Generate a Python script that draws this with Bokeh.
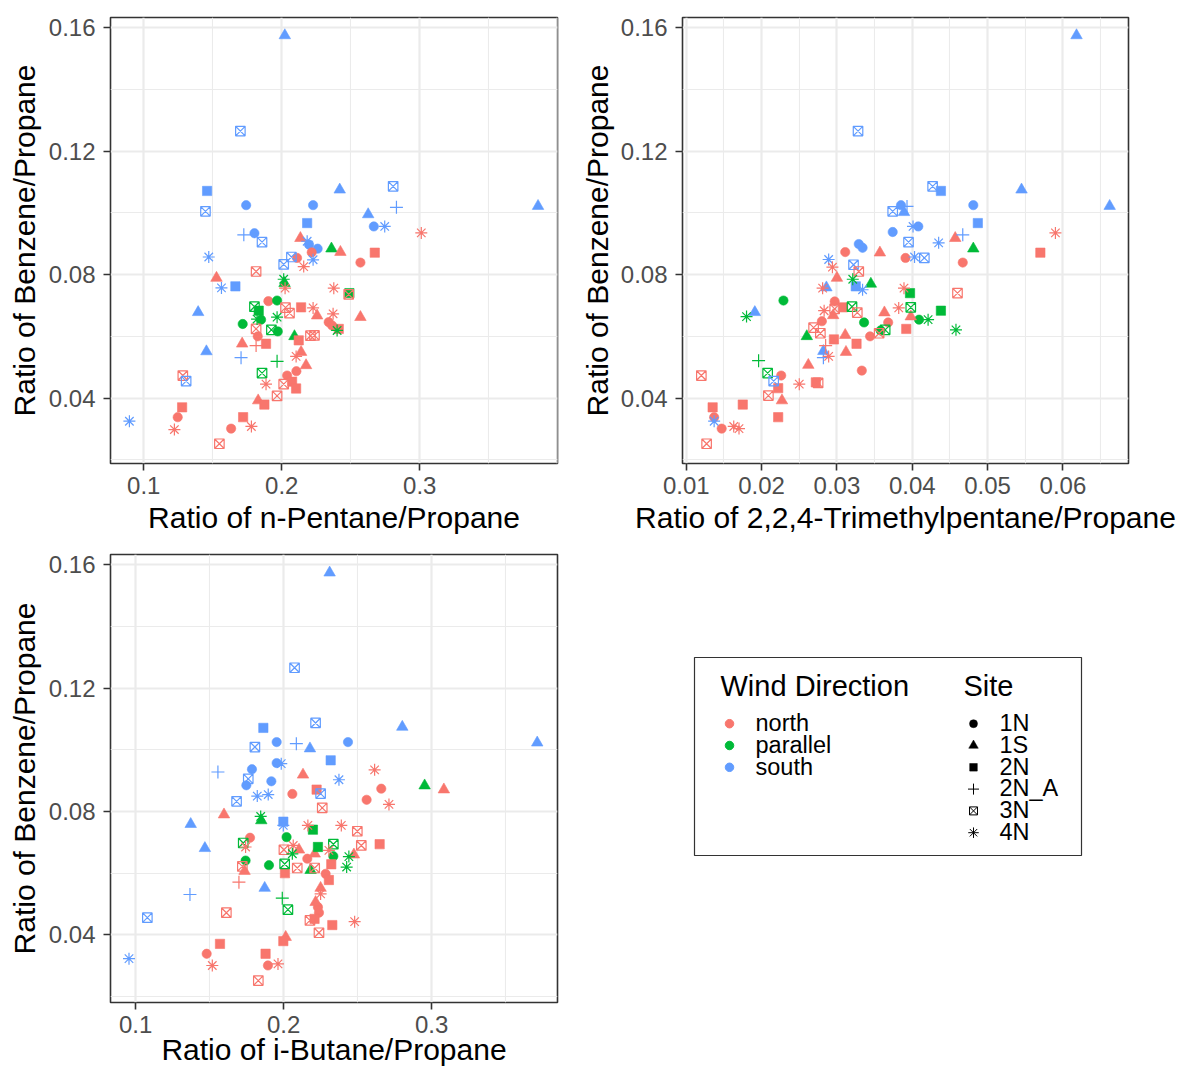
from bokeh.plotting import figure
from bokeh.models import ColumnDataSource, Range1d, FixedTicker
from bokeh.layouts import row, column
from bokeh.transform import factor_cmap
from bokeh.core.properties import value
from bokeh.embed import file_html
from bokeh.resources import INLINE

FONT = "Liberation Sans"

# ---------------- categories ----------------
WIND_CODES = {"N": "north", "P": "parallel", "S": "south"}
WIND_LEVELS = ["north", "parallel", "south"]
WIND_COLORS = ["#F8766D", "#00BA38", "#619CFF"]
SITE_LEVELS = ["1N", "1S", "2N", "2N_A", "3N", "4N"]

# ---------------- axes ----------------
Y_TICKS = [0.04, 0.08, 0.12, 0.16]
Y_MINOR = [0.02, 0.06, 0.10, 0.14]
Y_TICK_LABELS = ["0.04", "0.08", "0.12", "0.16"]
Y_TITLE = "Ratio of Benzene/Propane"

P1_XTICKS = [0.1, 0.2, 0.3, 0.4]
P1_XMINOR = [0.15, 0.25, 0.35]
P1_XLABELS = ["0.1", "0.2", "0.3", "0.4"]
P1_TITLE = "Ratio of n-Pentane/Propane"

P2_XTICKS = [0.01, 0.02, 0.03, 0.04, 0.05, 0.06]
P2_XMINOR = [0.015, 0.025, 0.035, 0.045, 0.055, 0.065]
P2_XLABELS = ["0.01", "0.02", "0.03", "0.04", "0.05", "0.06"]
P2_TITLE = "Ratio of 2,2,4-Trimethylpentane/Propane"

P3_XTICKS = [0.1, 0.2, 0.3]
P3_XMINOR = [0.15, 0.25, 0.35]
P3_XLABELS = ["0.1", "0.2", "0.3"]
P3_TITLE = "Ratio of i-Butane/Propane"

# ---------------- panel 1: n-Pentane/Propane ----------------
P1_X = [0.2022, 0.1700, 0.1459, 0.1742, 0.2227, 0.2420, 0.2807, 0.2831, 0.3857, 0.1447,
        0.2626, 0.2184, 0.1725, 0.1802, 0.1857, 0.2135, 0.2184, 0.2198, 0.2260, 0.2217,
        0.2360, 0.2425, 0.2070, 0.2014, 0.2111, 0.2227, 0.2159, 0.1471, 0.1814, 0.1527,
        0.2014, 0.2020, 0.2024, 0.1563, 0.1664, 0.2377, 0.2485, 0.2490, 0.1394, 0.1903,
        0.1966, 0.1802, 0.1833, 0.2027, 0.2056, 0.2140, 0.2227, 0.1717, 0.1821, 0.1850,
        0.1966, 0.2256, 0.2372, 0.2570, 0.2340, 0.2365, 0.2413, 0.2401, 0.2208, 0.2237,
        0.2123, 0.2092, 0.1925, 0.1971, 0.1814, 0.1826, 0.1886, 0.1713, 0.1814, 0.1454,
        0.1705, 0.1966, 0.2104, 0.2140, 0.2176, 0.2106, 0.2039, 0.1857, 0.1283, 0.1307,
        0.1886, 0.2014, 0.2075, 0.2104, 0.1966, 0.1829, 0.1874, 0.1278, 0.1246, 0.1222,
        0.0896, 0.1720, 0.1780, 0.1633, 0.1548, 0.2667, 0.2746, 0.3011, 0.2674, 0.2570]
P1_Y = [0.1575, 0.1265, 0.1071, 0.1025, 0.1025, 0.1075, 0.1086, 0.1018, 0.1022, 0.1005,
        0.0995, 0.0967, 0.0929, 0.0934, 0.0905, 0.0918, 0.0908, 0.0897, 0.0884, 0.0872,
        0.0884, 0.0873, 0.0857, 0.0833, 0.0854, 0.0848, 0.0826, 0.0857, 0.0810, 0.0789,
        0.0785, 0.0772, 0.0756, 0.0757, 0.0762, 0.0756, 0.0736, 0.0740, 0.0678, 0.0714,
        0.0716, 0.0696, 0.0683, 0.0693, 0.0675, 0.0694, 0.0692, 0.0640, 0.0656, 0.0654,
        0.0662, 0.0667, 0.0673, 0.0662, 0.0646, 0.0635, 0.0624, 0.0619, 0.0602, 0.0603,
        0.0587, 0.0600, 0.0621, 0.0616, 0.0624, 0.0600, 0.0576, 0.0576, 0.0570, 0.0551,
        0.0531, 0.0519, 0.0535, 0.0549, 0.0506, 0.0487, 0.0473, 0.0481, 0.0473, 0.0455,
        0.0445, 0.0445, 0.0453, 0.0431, 0.0407, 0.0392, 0.0379, 0.0370, 0.0338, 0.0298,
        0.0325, 0.0338, 0.0308, 0.0301, 0.0252, 0.0956, 0.0956, 0.0935, 0.0871, 0.0839]
P1_WIND = ("S S S S S S S S S S  S S S S S N S S S N  P N S S N S N S N N  "
           "P P N S S N N P S N  P P P N N N N P P P  P N N N N N N P N N  "
           "N P P P N N N N N S  S P N N N N N P N S  N N N N N N N N N N  "
           "S N N N N S S N N N").split()
P1_SITE = ("1S 3N 2N 1N 1N 1S 3N 2N_A 1S 3N  1S 2N 2N_A 1N 3N 1S 4N 1N 1N 1N  "
           "1S 1S 3N 3N 1N 4N 4N 4N 3N 1S  4N 1S 4N 4N 2N 4N 3N 2N 1S 1N  "
           "1N 3N 2N 3N 3N 2N 4N 1N 4N 1N  4N 1S 4N 1S 1N 1N 2N 4N 3N 3N  "
           "2N 1S 3N 1N 3N 1N 2N 1S 2N_A 1S  2N_A 2N_A 4N 1S 1S 1N 1N 3N 3N 3N  "
           "4N 3N 2N 2N 3N 1S 2N 2N 1N 4N  4N 2N 4N 1N 3N 1N 4N 4N 2N 1N").split()

# ---------------- panel 2: 2,2,4-Trimethylpentane/Propane ----------------
P2_X = [0.0618, 0.0328, 0.0427, 0.0438, 0.0481, 0.0545, 0.0662, 0.0385, 0.0393, 0.0374,
        0.0389, 0.0374, 0.0329, 0.0334, 0.0357, 0.0311, 0.0391, 0.0289, 0.0294, 0.0322,
        0.0329, 0.0300, 0.0321, 0.0325, 0.0334, 0.0345, 0.0281, 0.0286, 0.0389, 0.0397,
        0.0229, 0.0180, 0.0191, 0.0297, 0.0297, 0.0283, 0.0308, 0.0320, 0.0327, 0.0295,
        0.0280, 0.0363, 0.0382, 0.0368, 0.0336, 0.0269, 0.0278, 0.0260, 0.0296, 0.0285,
        0.0311, 0.0326, 0.0312, 0.0282, 0.0282, 0.0289, 0.0358, 0.0364, 0.0356, 0.0344,
        0.0392, 0.0333, 0.0262, 0.0250, 0.0272, 0.0275, 0.0196, 0.0208, 0.0216, 0.0226,
        0.0222, 0.0209, 0.0227, 0.0175, 0.0222, 0.0120, 0.0135, 0.0137, 0.0137, 0.0147,
        0.0163, 0.0170, 0.0127, 0.0487, 0.0401, 0.0408, 0.0395, 0.0435, 0.0457, 0.0467,
        0.0481, 0.0403, 0.0416, 0.0467, 0.0590, 0.0570, 0.0460, 0.0398, 0.0398, 0.0409,
        0.0421, 0.0438, 0.0458]
P2_Y = [0.1575, 0.1265, 0.1086, 0.1071, 0.1025, 0.1075, 0.1022, 0.1025, 0.1021, 0.1005,
        0.1002, 0.0938, 0.0899, 0.0887, 0.0871, 0.0873, 0.0854, 0.0849, 0.0824, 0.0832,
        0.0810, 0.0789, 0.0785, 0.0762, 0.0751, 0.0770, 0.0756, 0.0758, 0.0756, 0.0740,
        0.0716, 0.0664, 0.0678, 0.0713, 0.0689, 0.0683, 0.0694, 0.0696, 0.0677, 0.0668,
        0.0649, 0.0677, 0.0692, 0.0645, 0.0645, 0.0628, 0.0610, 0.0600, 0.0590, 0.0570,
        0.0604, 0.0576, 0.0549, 0.0552, 0.0531, 0.0535, 0.0619, 0.0621, 0.0610, 0.0600,
        0.0624, 0.0489, 0.0507, 0.0445, 0.0451, 0.0449, 0.0521, 0.0481, 0.0455, 0.0473,
        0.0432, 0.0408, 0.0392, 0.0379, 0.0338, 0.0473, 0.0370, 0.0338, 0.0325, 0.0301,
        0.0308, 0.0301, 0.0252, 0.0967, 0.0956, 0.0956, 0.0905, 0.0903, 0.0918, 0.0929,
        0.0884, 0.0857, 0.0854, 0.0839, 0.0935, 0.0871, 0.0740, 0.0694, 0.0664, 0.0654,
        0.0654, 0.0683, 0.0621]
P2_WIND = ("S S S S S S S S S S  S S S S N N N S N S  N N P S S P N S N P  "
           "P P S N N N N P N N  N N N N P N N P N N  N N N S S N P P N N  "
           "N N N N N N P P S N  N N N N N N N N S N  N N N S S S S S N S  "
           "P S S N N N N P N P  P P P").split()
P2_SITE = ("1S 3N 3N 2N 1N 1S 1S 1N 2N_A 3N  1S 1N 1N 1N 1S 1N 1N 4N 4N 3N  "
           "3N 1S 4N 2N 4N 1S 4N 1S 4N 2N  1N 4N 1S 1N 3N 4N 2N 3N 3N 1S  "
           "1N 1S 4N 1N 1N 3N 3N 1S 2N 2N_A  1S 2N 1S 1S 2N_A 4N 1N 3N 3N 1N  "
           "2N 1N 1S 4N 2N 3N 2N_A 3N 3N 1N  2N 3N 1S 2N 2N 3N 2N 1N 4N 1N  "
           "4N 4N 3N 2N 4N 1N 3N 4N 1S 2N_A  1S 4N 3N 1N 4N 2N 3N 3N 1S 1N  "
           "4N 2N 4N").split()

# ---------------- panel 3: i-Butane/Propane ----------------
P3_X = [0.2311, 0.2074, 0.1863, 0.2216, 0.2802, 0.3714, 0.1953, 0.2086, 0.2178, 0.2435,
        0.1806, 0.2318, 0.1953, 0.1984, 0.1556, 0.1786, 0.1761, 0.1748, 0.1917, 0.2131,
        0.2374, 0.2223, 0.2250, 0.2059, 0.1822, 0.1896, 0.1682, 0.2261, 0.1597, 0.1845,
        0.1849, 0.1372, 0.1998, 0.1998, 0.2164, 0.2198, 0.2390, 0.1773, 0.1727, 0.1743,
        0.2020, 0.2002, 0.2065, 0.2059, 0.2104, 0.2232, 0.2210, 0.2160, 0.2336, 0.2336,
        0.2306, 0.1468, 0.1743, 0.1721, 0.1736, 0.1901, 0.2007, 0.2009, 0.2092, 0.2210,
        0.2182, 0.2322, 0.2284, 0.2306, 0.2250, 0.2250, 0.1698, 0.1872, 0.1367, 0.1991,
        0.2216, 0.2232, 0.2239, 0.2029, 0.1613, 0.1079, 0.2178, 0.2209, 0.2329, 0.2239,
        0.2014, 0.1998, 0.1570, 0.1480, 0.1878, 0.1518, 0.1894, 0.1962, 0.1829, 0.0955,
        0.2615, 0.2660, 0.2561, 0.2712, 0.2953, 0.3083, 0.2498, 0.2525, 0.2649, 0.2441,
        0.2475, 0.2426, 0.2480]
P3_Y = [0.1574, 0.1266, 0.1071, 0.1087, 0.1074, 0.1023, 0.1025, 0.1020, 0.1004, 0.1025,
        0.1009, 0.0966, 0.0957, 0.0955, 0.0928, 0.0937, 0.0906, 0.0885, 0.0898, 0.0919,
        0.0903, 0.0871, 0.0858, 0.0857, 0.0850, 0.0855, 0.0833, 0.0812, 0.0790, 0.0784,
        0.0771, 0.0759, 0.0767, 0.0755, 0.0755, 0.0741, 0.0755, 0.0715, 0.0698, 0.0685,
        0.0717, 0.0676, 0.0690, 0.0663, 0.0676, 0.0685, 0.0663, 0.0647, 0.0694, 0.0655,
        0.0674, 0.0681, 0.0641, 0.0622, 0.0607, 0.0626, 0.0630, 0.0600, 0.0617, 0.0617,
        0.0610, 0.0629, 0.0598, 0.0578, 0.0552, 0.0533, 0.0571, 0.0552, 0.0531, 0.0519,
        0.0506, 0.0490, 0.0472, 0.0482, 0.0472, 0.0456, 0.0447, 0.0452, 0.0432, 0.0407,
        0.0393, 0.0380, 0.0371, 0.0339, 0.0339, 0.0301, 0.0301, 0.0306, 0.0252, 0.0323,
        0.0935, 0.0874, 0.0838, 0.0823, 0.0884, 0.0871, 0.0736, 0.0690, 0.0694, 0.0654,
        0.0660, 0.0620, 0.0443]
P3_WIND = ("S S S S S S S S S S  S S S S S S S S S N  S N S N S S S N N P  "
           "P S S S N P N N P N  P N N P N P N N P P  N S P N N P P N N N  "
           "P N N N N N N S S P  N N N P N S N N N N  N N N N N N N N N S  "
           "N N N N P N N N N P  N P N").split()
P3_SITE = ("1S 3N 2N 3N 1S 1S 1N 2N_A 1S 1N  3N 2N 1N 4N 2N_A 1N 3N 1N 1N 1S  "
           "4N 2N 3N 1N 4N 4N 3N 3N 1S 4N  1S 1S 2N 4N 4N 2N 4N 1N 3N 4N  "
           "1N 3N 4N 4N 1S 2N 1S 1N 3N 1N  4N 1S 1N 3N 1S 1N 3N 2N 3N 3N  "
           "1S 2N 1N 2N 1S 4N 2N_A 1S 2N_A 2N_A  1S 1N 1N 3N 3N 3N 3N 2N 2N 3N  "
           "1S 2N 2N 1N 2N 4N 1N 4N 3N 4N  4N 1N 1N 4N 1S 1S 3N 3N 2N 4N  "
           "1S 4N 4N").split()

# ---------------- styles ----------------
# site -> (bokeh marker, panel size, filled, legend size)
MARKERS = {
    "1N": ("circle", 9.3, True, 8.0),
    "1S": ("triangle", 11.5, True, 9.5),
    "2N": ("square", 9.3, True, 7.6),
    "2N_A": ("cross", 13.0, False, 11.0),
    "3N": ("square_x", 9.5, False, 8.0),
    "4N": ("asterisk", 12.0, False, 10.5),
}


def style_axis(ax):
    ax.axis_line_color = None
    ax.major_tick_line_color = "#333333"
    ax.major_tick_line_width = 1.6
    ax.major_tick_in = 0
    ax.major_tick_out = 7
    ax.minor_tick_line_color = None
    ax.major_label_text_font = FONT
    ax.major_label_text_font_size = "24px"
    ax.major_label_text_color = "#4D4D4D"
    ax.major_label_standoff = 6
    ax.axis_label_text_font = FONT
    ax.axis_label_text_font_size = "30px"
    ax.axis_label_text_font_style = "normal"
    ax.axis_label_text_color = "black"
    ax.axis_label_standoff = 4


def make_panel(xs, ys, winds, sites, xr, yr, xticks, xminor, xlabels, xtitle,
               width, height, borders, xtitle_standoff=4):
    p = figure(width=width, height=height, x_range=Range1d(*xr), y_range=Range1d(*yr),
               output_backend="svg", toolbar_location=None, tools="",
               min_border_left=borders[0], min_border_right=borders[1],
               min_border_top=borders[2], min_border_bottom=borders[3])
    p.background_fill_color = "white"
    p.border_fill_color = "white"
    p.outline_line_color = "#333333"
    p.outline_line_width = 1.6

    p.xaxis.ticker = FixedTicker(ticks=xticks, minor_ticks=xminor)
    p.yaxis.ticker = FixedTicker(ticks=Y_TICKS, minor_ticks=Y_MINOR)
    p.xaxis.major_label_overrides = {t: l for t, l in zip(xticks, xlabels)}
    p.yaxis.major_label_overrides = {t: l for t, l in zip(Y_TICKS, Y_TICK_LABELS)}
    p.xaxis.axis_label = xtitle
    p.yaxis.axis_label = Y_TITLE
    for ax in p.xaxis + p.yaxis:
        style_axis(ax)
    p.yaxis.major_label_standoff = 8
    p.yaxis.axis_label_standoff = 5
    p.xaxis.axis_label_standoff = xtitle_standoff

    for g in p.xgrid + p.ygrid:
        g.grid_line_color = "#EBEBEB"
        g.grid_line_width = 2.2
        g.minor_grid_line_color = "#EBEBEB"
        g.minor_grid_line_width = 1.1

    cmap = factor_cmap("wind", palette=WIND_COLORS, factors=WIND_LEVELS)
    for site in SITE_LEVELS:
        marker, size, filled, _ = MARKERS[site]
        idx = [i for i, s in enumerate(sites) if s == site]
        if not idx:
            continue
        src = ColumnDataSource(dict(
            x=[xs[i] for i in idx],
            y=[ys[i] for i in idx],
            wind=[WIND_CODES[winds[i]] for i in idx],
        ))
        if filled:
            p.scatter("x", "y", source=src, marker=marker, size=size,
                      fill_color=cmap, line_color=cmap, line_width=0.6)
        else:
            p.scatter("x", "y", source=src, marker=marker, size=size,
                      fill_color=None, line_color=cmap, line_width=1.2)
    return p


# page geometry (px): left column 0..576, right column 576..1179; rows 0..545, 545..1068
p1 = make_panel(P1_X, P1_Y, P1_WIND, P1_SITE, (0.0759, 0.3998), (0.0188, 0.1633),
                P1_XTICKS, P1_XMINOR, P1_XLABELS, P1_TITLE,
                576, 545, (110, 19, 17, 82))
p2 = make_panel(P2_X, P2_Y, P2_WIND, P2_SITE, (0.0095, 0.0687), (0.0188, 0.1633),
                P2_XTICKS, P2_XMINOR, P2_XLABELS, P2_TITLE,
                603, 545, (106, 51, 17, 82))
p2.yaxis.axis_label_standoff = 4
p3 = make_panel(P3_X, P3_Y, P3_WIND, P3_SITE, (0.0830, 0.3851), (0.0181, 0.1633),
                P3_XTICKS, P3_XMINOR, P3_XLABELS, P3_TITLE,
                576, 523, (110, 19, 9, 66), xtitle_standoff=-3)

# ---------------- legend panel (frame aligned with panel 2's frame: x 682..1128) ----------------
lg = figure(width=603, height=523, x_range=Range1d(682, 1128), y_range=Range1d(1068, 545),
            output_backend="svg", toolbar_location=None, tools="",
            min_border_left=106, min_border_right=51, min_border_top=0, min_border_bottom=0,
            x_axis_location=None, y_axis_location=None)
lg.grid.visible = False
lg.outline_line_color = None
lg.background_fill_color = "white"
lg.border_fill_color = "white"

lg.quad(left=[694], right=[1081], top=[657], bottom=[855],
        fill_color=None, line_color="#333333", line_width=1.2)

ROW_H = 21.8
MARK_Y0 = 723.2      # first legend key centre
TEXT_Y0 = 722.5      # first legend label baseline position (as rendered)
TITLE_Y = 685.5
lg.text(x=[720, 963], y=[TITLE_Y, TITLE_Y], text=["Wind Direction", "Site"],
        text_font=value(FONT), text_font_size="29px", text_baseline="alphabetic",
        text_color="black")
lg.scatter(x=[729] * len(WIND_LEVELS), y=[MARK_Y0 + i * ROW_H for i in range(len(WIND_LEVELS))],
           marker="circle", size=8.5, fill_color=WIND_COLORS, line_color=WIND_COLORS)
lg.text(x=[755] * len(WIND_LEVELS), y=[TEXT_Y0 + i * ROW_H for i in range(len(WIND_LEVELS))],
        text=WIND_LEVELS, text_font=value(FONT), text_font_size="23.5px",
        text_baseline="alphabetic", text_color="black")
for i, site in enumerate(SITE_LEVELS):
    marker, _, filled, lsize = MARKERS[site]
    yy = MARK_Y0 + i * ROW_H
    if filled:
        lg.scatter(x=[973], y=[yy], marker=marker, size=lsize,
                   fill_color="black", line_color="black", line_width=0.5)
    else:
        lg.scatter(x=[973], y=[yy], marker=marker, size=lsize,
                   fill_color=None, line_color="black", line_width=1.0)
lg.text(x=[999] * len(SITE_LEVELS), y=[TEXT_Y0 + i * ROW_H for i in range(len(SITE_LEVELS))],
        text=SITE_LEVELS, text_font=value(FONT), text_font_size="23.5px",
        text_baseline="alphabetic", text_color="black")

layout = row(column(p1, p3), column(p2, lg))
open("out.html", "w").write(file_html(layout, INLINE))
